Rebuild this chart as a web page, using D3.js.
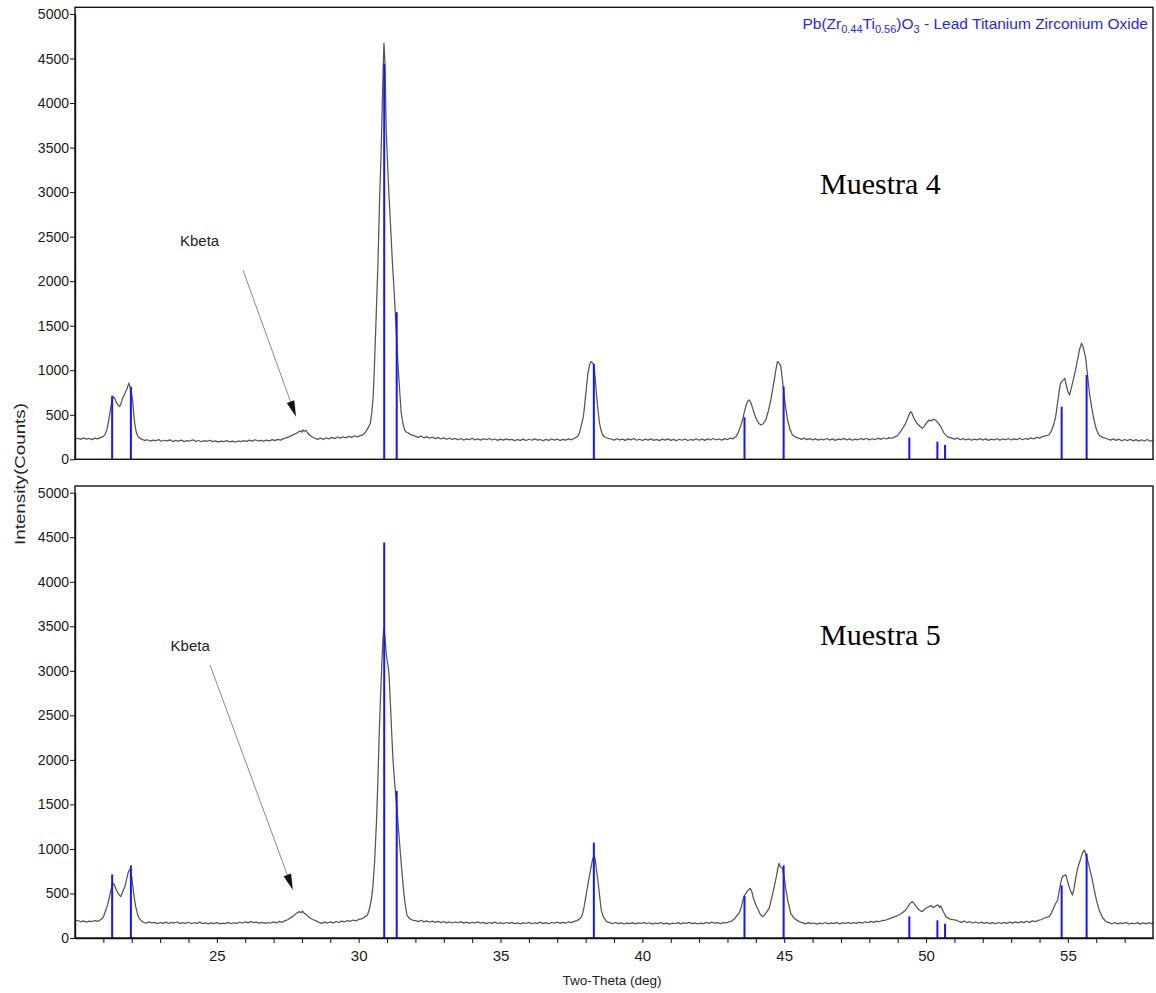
<!DOCTYPE html>
<html><head><meta charset="utf-8">
<script src="https://cdn.jsdelivr.net/npm/d3@7"></script>
<style>html,body{margin:0;padding:0;background:#fff}svg{display:block}</style>
</head><body>
<script>
// ---------- DATA ----------
const yTickValues = [0,500,1000,1500,2000,2500,3000,3500,4000,4500,5000];
const xMajorTicks = [25,30,35,40,45,50,55];
const xMinorTicks = [21,22,23,24,25,26,27,28,29,30,31,32,33,34,35,36,37,38,39,40,41,42,43,44,45,46,47,48,49,50,51,52,53,54,55,56,57];
const panelLabels = ["Muestra 4","Muestra 5"];
// reference pattern (PDF card) sticks
const stickTheta  = [21.31, 21.97, 30.90, 31.34, 38.29, 43.60, 44.98, 49.41, 50.40, 50.67, 54.78, 55.66];
const stickCounts = [714, 815, 4440, 1652, 1071, 472, 816, 243, 198, 161, 591, 947];
// Muestra 4 measured pattern [two-theta, counts]
const muestra4 = [
[20.0,228],[20.1,236],[20.2,224],[20.3,240],[20.4,226],[20.5,234],[20.6,221],[20.7,238],[20.8,229],[20.9,244],[21.0,258],
[21.06,280],[21.12,330],[21.17,404],[21.22,500],[21.27,600],[21.31,666],[21.35,702],[21.39,690],[21.43,660],[21.48,628],[21.53,605],[21.58,592],[21.63,635],[21.68,690],[21.73,715],[21.78,755],[21.83,790],[21.87,830],[21.90,856],[21.94,810],[21.98,760],[22.02,690],[22.06,560],[22.09,442],[22.13,352],[22.17,292],[22.22,258],[22.28,238],
[22.35,226],[22.45,212],[22.55,219],[22.65,205],[22.75,216],[22.85,208],[22.95,221],[23.05,203],[23.15,214],[23.25,206],[23.35,218],[23.45,200],[23.55,212],[23.65,204],[23.75,215],[23.85,199],[23.95,210],[24.05,205],[24.15,218],[24.25,202],[24.35,211],[24.45,197],[24.55,209],[24.65,201],[24.75,214],[24.85,198],[24.95,207],[25.05,193],[25.15,205],[25.25,199],[25.35,211],[25.45,196],[25.55,204],[25.65,192],[25.75,206],[25.85,198],[25.95,209],[26.05,201],[26.15,215],[26.25,204],[26.35,219],[26.45,206],[26.55,212],[26.65,203],[26.75,216],[26.85,207],[26.95,221],[27.05,210],[27.15,224],[27.25,215],[27.35,232],[27.45,240],
[27.55,255],[27.65,268],[27.75,284],[27.85,300],[27.92,318],[27.98,306],[28.03,330],[28.08,312],[28.14,326],[28.2,298],[28.28,270],[28.36,250],[28.45,236],
[28.55,224],[28.65,238],[28.75,222],[28.85,240],[28.95,228],[29.05,246],[29.15,232],[29.25,250],[29.35,238],[29.45,253],[29.55,241],[29.65,258],[29.75,246],[29.85,262],[29.95,251],[30.05,266],[30.13,272],
[30.21,292],[30.29,330],[30.36,370],[30.41,404],[30.46,520],[30.51,703],[30.55,1000],[30.60,1453],[30.64,1830],[30.68,2202],[30.71,2580],[30.74,2950],[30.78,3330],[30.81,3700],[30.84,4100],[30.87,4450],[30.89,4674],[30.91,4560],[30.93,4420],[30.95,4060],[30.97,3700],[31.02,3310],[31.07,2950],[31.13,2580],[31.19,2202],[31.26,1830],[31.32,1453],[31.37,1150],[31.42,891],[31.46,700],[31.50,517],[31.56,402],[31.62,329],[31.68,305],[31.74,298],[31.80,282],[31.86,274],[31.93,268],
[32.0,258],[32.1,246],[32.2,262],[32.3,240],[32.4,255],[32.5,236],[32.6,250],[32.7,232],[32.8,244],[32.9,228],[33.0,241],[33.1,225],[33.2,238],[33.3,222],[33.4,235],[33.5,219],[33.6,233],[33.7,216],[33.8,230],[33.9,221],[34.0,236],[34.1,218],[34.2,229],[34.3,215],[34.4,231],[34.5,220],[34.6,234],[34.7,217],[34.8,228],[34.9,212],[35.0,226],[35.1,215],[35.2,230],[35.3,218],[35.4,224],[35.5,209],[35.6,222],[35.7,213],[35.8,227],[35.9,211],[36.0,225],[36.1,214],[36.2,229],[36.3,216],[36.4,222],[36.5,208],[36.6,224],[36.7,212],[36.8,228],[36.9,215],[37.0,226],[37.1,211],[37.2,224],[37.3,216],[37.4,230],[37.5,219],[37.6,236],[37.7,252],
[37.78,292],[37.86,400],[37.92,480],[37.96,591],[38.02,780],[38.08,966],[38.14,1060],[38.19,1097],[38.24,1085],[38.29,1060],[38.34,900],[38.39,704],[38.44,540],[38.49,404],[38.55,320],[38.60,273],[38.68,250],[38.78,236],
[38.9,228],[39.0,216],[39.1,231],[39.2,219],[39.3,226],[39.4,212],[39.5,229],[39.6,218],[39.7,233],[39.8,214],[39.9,225],[40.0,211],[40.1,227],[40.2,216],[40.3,230],[40.4,213],[40.5,224],[40.6,210],[40.7,226],[40.8,215],[40.9,229],[41.0,212],[41.1,223],[41.2,209],[41.3,225],[41.4,214],[41.5,228],[41.6,211],[41.7,222],[41.8,216],[41.9,231],[42.0,214],[42.1,226],[42.2,212],[42.3,229],[42.4,217],[42.5,233],[42.6,219],[42.7,228],[42.8,215],[42.9,232],[43.0,222],[43.1,238],[43.2,230],
[43.30,255],[43.38,300],[43.46,370],[43.53,441],[43.60,540],[43.67,620],[43.73,660],[43.77,666],[43.82,640],[43.88,580],[43.94,517],[44.02,450],[44.10,405],[44.18,386],[44.26,400],[44.35,441],[44.44,540],[44.53,666],[44.59,780],[44.65,891],[44.71,1010],[44.76,1097],[44.80,1090],[44.84,1070],[44.88,1040],[44.94,880],[45.00,704],[45.06,560],[45.12,441],[45.20,340],[45.29,273],[45.40,248],[45.53,236],
[45.6,224],[45.7,238],[45.8,221],[45.9,233],[46.0,218],[46.1,230],[46.2,215],[46.3,228],[46.4,219],[46.5,234],[46.6,216],[46.7,229],[46.8,213],[46.9,226],[47.0,220],[47.1,235],[47.2,217],[47.3,230],[47.4,214],[47.5,227],[47.6,219],[47.7,233],[47.8,221],[47.9,236],[48.0,218],[48.1,231],[48.2,220],[48.3,237],[48.4,224],[48.5,239],[48.6,228],[48.7,244],[48.8,236],[48.9,252],[49.0,265],
[49.05,292],[49.12,320],[49.20,360],[49.28,404],[49.36,470],[49.42,515],[49.46,534],[49.50,520],[49.56,470],[49.64,423],[49.72,390],[49.80,365],[49.87,348],[49.94,372],[50.02,410],[50.11,441],[50.18,430],[50.25,448],[50.34,441],[50.42,410],[50.52,366],[50.62,300],[50.75,255],[50.88,240],
[51.0,226],[51.1,238],[51.2,220],[51.3,233],[51.4,217],[51.5,230],[51.6,214],[51.7,227],[51.8,219],[51.9,232],[52.0,216],[52.1,229],[52.2,213],[52.3,226],[52.4,218],[52.5,231],[52.6,215],[52.7,228],[52.8,220],[52.9,234],[53.0,217],[53.1,230],[53.2,221],[53.3,236],[53.4,219],[53.5,233],[53.6,224],[53.7,240],[53.8,228],[53.9,246],[54.0,238],[54.1,255],[54.2,262],
[54.33,273],[54.42,320],[54.50,390],[54.57,479],[54.63,620],[54.69,760],[54.74,853],[54.80,880],[54.85,895],[54.89,909],[54.94,840],[55.00,760],[55.06,722],[55.12,800],[55.20,905],[55.27,1003],[55.34,1120],[55.41,1230],[55.48,1303],[55.53,1270],[55.58,1200],[55.62,1153],[55.69,950],[55.76,741],[55.84,580],[55.92,441],[56.00,340],[56.09,273],[56.20,250],[56.33,236],
[56.4,228],[56.5,216],[56.6,230],[56.7,212],[56.8,226],[56.9,208],[57.0,222],[57.1,210],[57.2,225],[57.3,207],[57.4,221],[57.5,204],[57.6,219],[57.7,206],[57.8,222],[57.9,203],[58.0,216]
];
// Muestra 5 measured pattern [two-theta, counts]
const muestra5 = [
[20.0,188],[20.1,196],[20.2,182],[20.3,193],[20.4,179],[20.5,190],[20.6,184],[20.7,197],[20.8,186],[20.9,205],[21.0,236],
[21.06,290],[21.13,352],[21.2,440],[21.26,530],[21.32,595],[21.37,610],[21.41,577],[21.46,540],[21.52,500],[21.57,478],[21.61,464],[21.66,500],[21.71,545],[21.76,577],[21.82,660],[21.87,730],[21.91,760],[21.95,771],[22.0,690],[22.04,577],[22.09,450],[22.14,352],[22.20,270],[22.26,221],[22.32,200],
[22.4,178],[22.5,166],[22.6,181],[22.7,169],[22.8,176],[22.9,162],[23.0,174],[23.1,165],[23.2,179],[23.3,163],[23.4,175],[23.5,168],[23.6,180],[23.7,161],[23.8,172],[23.9,164],[24.0,177],[24.1,160],[24.2,171],[24.3,165],[24.4,178],[24.5,162],[24.6,170],[24.7,158],[24.8,169],[24.9,161],[25.0,173],[25.1,159],[25.2,168],[25.3,162],[25.4,175],[25.5,160],[25.6,171],[25.7,164],[25.8,177],[25.9,168],[26.0,182],[26.1,170],[26.2,184],[26.3,173],[26.4,179],[26.5,166],[26.6,176],[26.7,164],[26.8,174],[26.9,168],[27.0,181],[27.1,170],[27.2,186],[27.3,176],[27.4,195],[27.5,205],
[27.6,228],[27.67,240],[27.74,262],[27.8,275],[27.86,288],[27.92,296],[27.97,284],[28.02,300],[28.08,278],[28.14,268],[28.2,246],[28.3,222],[28.4,205],[28.5,192],
[28.6,175],[28.7,165],[28.8,178],[28.9,168],[29.0,181],[29.1,170],[29.2,186],[29.3,174],[29.4,190],[29.5,180],[29.6,196],[29.7,186],[29.8,202],[29.9,192],[30.0,208],[30.1,215],[30.2,232],
[30.31,258],[30.38,330],[30.45,440],[30.50,577],[30.56,850],[30.63,1325],[30.68,1800],[30.72,2260],[30.77,2700],[30.82,3121],[30.86,3380],[30.89,3477],[30.92,3400],[30.95,3280],[30.97,3195],[31.01,3100],[31.04,3047],[31.07,2950],[31.09,2820],[31.13,2550],[31.17,2260],[31.21,2000],[31.26,1774],[31.32,1550],[31.38,1325],[31.42,1150],[31.47,951],[31.52,760],[31.57,577],[31.63,400],[31.70,258],[31.78,220],[31.89,202],
[32.0,196],[32.1,184],[32.2,199],[32.3,181],[32.4,192],[32.5,177],[32.6,190],[32.7,175],[32.8,186],[32.9,172],[33.0,185],[33.1,170],[33.2,182],[33.3,168],[33.4,180],[33.5,171],[33.6,184],[33.7,167],[33.8,178],[33.9,164],[34.0,177],[34.1,168],[34.2,181],[34.3,166],[34.4,175],[34.5,162],[34.6,174],[34.7,165],[34.8,178],[34.9,163],[35.0,172],[35.1,160],[35.2,174],[35.3,164],[35.4,176],[35.5,161],[35.6,170],[35.7,158],[35.8,172],[35.9,163],[36.0,175],[36.1,160],[36.2,171],[36.3,165],[36.4,178],[36.5,162],[36.6,173],[36.7,160],[36.8,174],[36.9,166],[37.0,179],[37.1,164],[37.2,176],[37.3,168],[37.4,182],[37.5,172],[37.6,186],[37.7,195],
[37.79,215],[37.86,240],[37.93,320],[38.0,450],[38.06,560],[38.11,652],[38.17,760],[38.24,876],[38.30,933],[38.34,880],[38.38,770],[38.43,652],[38.49,480],[38.55,315],[38.62,240],[38.74,183],
[38.85,172],[38.95,160],[39.05,174],[39.15,162],[39.25,170],[39.35,157],[39.45,168],[39.55,161],[39.65,173],[39.75,158],[39.85,169],[39.95,163],[40.05,175],[40.15,160],[40.25,171],[40.35,156],[40.45,168],[40.55,162],[40.65,174],[40.75,159],[40.85,167],[40.95,155],[41.05,166],[41.15,160],[41.25,172],[41.35,158],[41.45,169],[41.55,163],[41.65,176],[41.75,161],[41.85,170],[41.95,157],[42.05,168],[42.15,162],[42.25,175],[42.35,164],[42.45,178],[42.55,166],[42.65,173],[42.75,160],[42.85,176],[42.95,168],[43.05,182],[43.15,190],[43.25,215],
[43.33,250],[43.41,277],[43.48,340],[43.55,430],[43.60,480],[43.65,502],[43.72,535],[43.80,558],[43.86,520],[43.92,440],[44.0,371],[44.08,320],[44.15,270],[44.23,240],[44.30,255],[44.38,290],[44.47,333],[44.55,440],[44.65,577],[44.73,700],[44.78,790],[44.82,839],[44.86,800],[44.90,790],[44.94,783],[45.0,680],[45.06,539],[45.14,400],[45.23,277],[45.35,220],[45.53,184],
[45.65,170],[45.75,158],[45.85,172],[45.95,161],[46.05,168],[46.15,155],[46.25,167],[46.35,160],[46.45,174],[46.55,158],[46.65,169],[46.75,162],[46.85,175],[46.95,159],[47.05,170],[47.15,163],[47.25,176],[47.35,161],[47.45,172],[47.55,165],[47.65,178],[47.75,167],[47.85,182],[47.95,171],[48.05,186],[48.15,175],[48.25,190],[48.35,182],[48.45,196],[48.58,202],
[48.7,215],[48.8,228],[48.9,240],[49.0,252],[49.1,270],[49.2,292],[49.28,315],[49.36,350],[49.44,390],[49.52,408],[49.58,385],[49.66,350],[49.74,320],[49.80,305],[49.87,296],[49.94,320],[50.02,340],[50.11,352],[50.18,365],[50.26,340],[50.34,360],[50.42,372],[50.48,345],[50.52,360],[50.60,300],[50.70,240],[50.82,215],[50.95,205],[51.05,202],
[51.15,188],[51.25,176],[51.35,190],[51.45,172],[51.55,183],[51.65,169],[51.75,180],[51.85,166],[51.95,178],[52.05,164],[52.15,175],[52.25,162],[52.35,173],[52.45,160],[52.55,174],[52.65,163],[52.75,176],[52.85,165],[52.95,179],[53.05,167],[53.15,181],[53.25,170],[53.35,184],[53.45,172],[53.55,188],[53.65,176],[53.75,192],[53.85,183],[53.95,198],[54.05,205],[54.15,222],[54.25,232],
[54.34,240],[54.42,280],[54.50,340],[54.57,390],[54.64,427],[54.70,540],[54.76,640],[54.81,689],[54.87,700],[54.93,708],[55.0,620],[55.08,540],[55.16,483],[55.22,560],[55.28,680],[55.34,780],[55.40,839],[55.46,900],[55.52,960],[55.58,988],[55.63,940],[55.69,880],[55.75,801],[55.84,680],[55.93,539],[56.01,420],[56.10,315],[56.22,230],[56.34,184],
[56.45,172],[56.55,160],[56.65,174],[56.75,158],[56.85,169],[56.95,162],[57.05,175],[57.15,157],[57.25,168],[57.35,160],[57.45,173],[57.55,156],[57.65,170],[57.75,159],[57.85,172],[57.95,161],[58.0,166]
];

// ---------- LAYOUT ----------
const W = 1156, H = 993;
const FONT = "'Liberation Sans', Arial, sans-serif";
const svg = d3.select("body").append("svg").attr("width", W).attr("height", H);

const x = d3.scaleLinear().domain([20, 58]).range([75, 1153]);
const panels = [
  {data: muestra4, y: d3.scaleLinear().domain([0, 5000]).range([459.3, 14]), label: panelLabels[0], labelY: 194,
   kb: {lt: 23.70, lc: 2391, st: 25.92, sc: 2126, tt: 27.79, tc: 478}, xAxis: false},
  {data: muestra5, y: d3.scaleLinear().domain([0, 5000]).range([938, 492.7]), label: panelLabels[1], labelY: 645,
   kb: {lt: 23.37, lc: 3223, st: 24.76, sc: 3065, tt: 27.68, tc: 539}, xAxis: true}
];
const yMax = 5075;

panels.forEach((p, i) => {
  const g = svg.append("g");
  const y = p.y;
  // trace
  const line = d3.line().x(d => x(d[0])).y(d => y(d[1]));
  g.append("path").datum(p.data).attr("d", line)
    .attr("fill", "none").attr("stroke", "#555").attr("stroke-width", 1.25).attr("stroke-linejoin", "round");
  // sticks
  g.selectAll("line.stick").data(stickTheta).join("line").attr("class", "stick")
    .attr("x1", d => x(d)).attr("x2", d => x(d))
    .attr("y1", y(0)).attr("y2", (d, k) => y(stickCounts[k]))
    .attr("stroke", "#1414ff").attr("stroke-width", 2);
  // frame
  g.append("rect").attr("x", x(20)).attr("y", y(yMax))
    .attr("width", x(58) - x(20)).attr("height", y(0) - y(yMax))
    .attr("fill", "none").attr("stroke", "#111").attr("stroke-width", 1.4);
  // y axis
  const ya = g.append("g").attr("transform", `translate(${x(20)},0)`)
    .call(d3.axisLeft(y).tickValues(yTickValues).tickSize(5).tickSizeOuter(0).tickFormat(d3.format("d")));
  ya.select(".domain").attr("stroke", "#111").attr("stroke-width", 1.4);
  ya.selectAll(".tick line").attr("stroke", "#111");
  ya.selectAll(".tick text").attr("x", -6).style("font", `14px ${FONT}`).attr("fill", "#1a1a1a");
  // x axis
  if (p.xAxis) {
    const xa = g.append("g").attr("transform", `translate(0,${y(0)})`)
      .call(d3.axisBottom(x).tickValues(xMinorTicks).tickSize(5).tickSizeOuter(0)
        .tickFormat(d => xMajorTicks.includes(d) ? d : ""));
    xa.select(".domain").attr("stroke", "#111").attr("stroke-width", 1.4);
    xa.selectAll(".tick line").attr("stroke", "#111");
    xa.selectAll(".tick text").attr("y", 12).style("font", `15px ${FONT}`).attr("fill", "#1a1a1a");
  }
  // Kbeta annotation
  const kb = p.kb;
  g.append("text").attr("x", x(kb.lt)).attr("y", y(kb.lc)).text("Kbeta")
    .style("font", `15px ${FONT}`).attr("fill", "#222");
  const sx = x(kb.st), sy = y(kb.sc), tx = x(kb.tt), ty = y(kb.tc);
  const ang = Math.atan2(ty - sy, tx - sx);
  const L = 16, hw = 4;
  const bx = tx - L * Math.cos(ang), by = ty - L * Math.sin(ang);
  g.append("line").attr("x1", sx).attr("y1", sy).attr("x2", bx).attr("y2", by)
    .attr("stroke", "#8a8a8a").attr("stroke-width", 1);
  g.append("path").attr("d", d3.line()([
      [tx, ty],
      [bx + hw * Math.sin(ang), by - hw * Math.cos(ang)],
      [bx - hw * Math.sin(ang), by + hw * Math.cos(ang)]
    ]) + "Z").attr("fill", "#111");
  // sample label
  g.append("text").attr("x", 820).attr("y", p.labelY).text(p.label)
    .style("font", "30px 'Liberation Serif', 'Times New Roman', serif").attr("fill", "#000");
});

// legend (top right)
const leg = svg.append("text").attr("x", 1148).attr("y", 29).attr("text-anchor", "end")
  .style("font", `15.5px ${FONT}`).attr("fill", "#2626f2");
const legParts = [["Pb(Zr",0],["0.44",1],["Ti",0],["0.56",1],[")O",0],["3",1],[" - Lead Titanium Zirconium Oxide",0]];
let cur = 0;
legParts.forEach(([t, sub]) => {
  const target = sub ? 3.5 : 0;
  leg.append("tspan").attr("dy", target - cur).style("font-size", sub ? "11px" : "15.5px").text(t);
  cur = target;
});

// axis titles
svg.append("text").attr("transform", "translate(25,474) rotate(-90)").attr("text-anchor", "middle")
  .attr("textLength", 142).attr("lengthAdjust", "spacingAndGlyphs")
  .style("font", `14px ${FONT}`).attr("fill", "#222").text("Intensity(Counts)");
svg.append("text").attr("x", 612).attr("y", 985).attr("text-anchor", "middle")
  .style("font", `13.5px ${FONT}`).attr("fill", "#222").text("Two-Theta (deg)");
</script>
</body></html>
